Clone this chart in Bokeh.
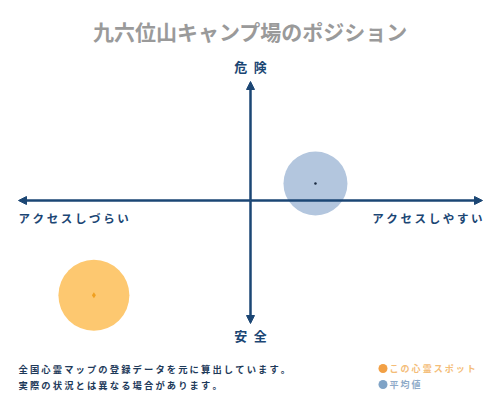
from bokeh.plotting import figure
from bokeh.models import Range1d, Arrow, NormalHead
from bokeh.core.properties import value
from bokeh.embed import file_html
from bokeh.resources import INLINE

# ---- data ----
title_text = "九六位山キャンプ場のポジション"
axis_top = "危\u2002険"
axis_bottom = "安\u2002全"
axis_left = "ア ク セ ス し づ ら い"
axis_right = "ア ク セ ス し や す い"
note_lines = ["全 国 心 霊 マ ッ プ の 登 録 デ ー タ を 元 に 算 出 し て い ま す 。",
              "実 際 の 状 況 と は 異 な る 場 合 が あ り ま す 。"]
legend_labels = ["こ の 心 霊 ス ポ ッ ト", "平 均 値"]

series_names = ["spot", "average"]
access_x = [-0.675, 0.28]      # access (left: hard, right: easy)
danger_y = [-0.79, 0.142]      # danger (up: dangerous, down: safe)
bubble_size = [71, 64]
fill_colors = ["#fdc870", "#b3c6de"]
dot_colors = ["#f0a020", "#1a2a40"]
legend_dot_colors = ["#f2a045", "#7fa3c6"]
legend_text_colors = ["#f4bd78", "#8eaac8"]

FONT = "Noto Sans CJK JP"
NAVY = "#1b4674"

W, H = 500, 400
SX = 232.0  # px per unit x
SY = 120.0  # px per unit y
CX, CY = 250.0, 200.0  # image px of origin


def dx(px):
    return (px - CX) / SX


def dy(py):
    return (CY - py) / SY


p = figure(width=W, height=H, output_backend="svg", toolbar_location=None,
           x_range=Range1d(dx(0), dx(W)), y_range=Range1d(dy(H), dy(0)),
           min_border=0, outline_line_color=None)
p.axis.visible = False
p.grid.visible = False
p.background_fill_color = "white"
p.border_fill_color = "white"

# axes arrows
head = dict(size=8, fill_color=NAVY, line_color=NAVY)
for ex, ey in [(18, 200), (482, 200), (250, 81), (250, 323)]:
    p.add_layout(Arrow(x_start=dx(250), y_start=dy(200), x_end=dx(ex), y_end=dy(ey),
                       line_color=NAVY, line_width=2.5, end=NormalHead(**head)))

# bubbles
p.scatter(x=access_x, y=danger_y, size=bubble_size, fill_color=fill_colors,
          line_color=None, fill_alpha=1.0)
p.scatter(x=[access_x[0]], y=[danger_y[0]], size=6, marker="diamond",
          fill_color=dot_colors[0], line_color=None)
p.scatter(x=[access_x[1]], y=[danger_y[1]], size=2.5,
          fill_color=dot_colors[1], line_color=None)


def txt(x, y, s, size, color, align="center", style="bold"):
    p.text(x=[dx(x)], y=[dy(y)], text=[s], text_font=value(FONT),
           text_font_size=size, text_color=color, text_align=align,
           text_baseline="middle", text_font_style=style)


txt(250, 30, title_text, "21px", "#9a9a9a")
txt(250, 66, axis_top, "13px", NAVY)
txt(250, 335, axis_bottom, "13px", NAVY)
txt(18, 217, axis_left, "11.5px", NAVY, align="left")
txt(482, 217, axis_right, "11.5px", NAVY, align="right")
txt(18, 368, note_lines[0], "9.3px", "#1e3a5a", align="left")
txt(18, 384, note_lines[1], "9.3px", "#1e3a5a", align="left")

# legend
for i, yy in enumerate([368, 384]):
    p.scatter(x=[dx(382.5)], y=[dy(yy)], size=9, fill_color=legend_dot_colors[i],
              line_color=None)
    txt(389, yy, legend_labels[i], "9px", legend_text_colors[i], align="left")

open("out.html", "w").write(file_html(p, INLINE))
